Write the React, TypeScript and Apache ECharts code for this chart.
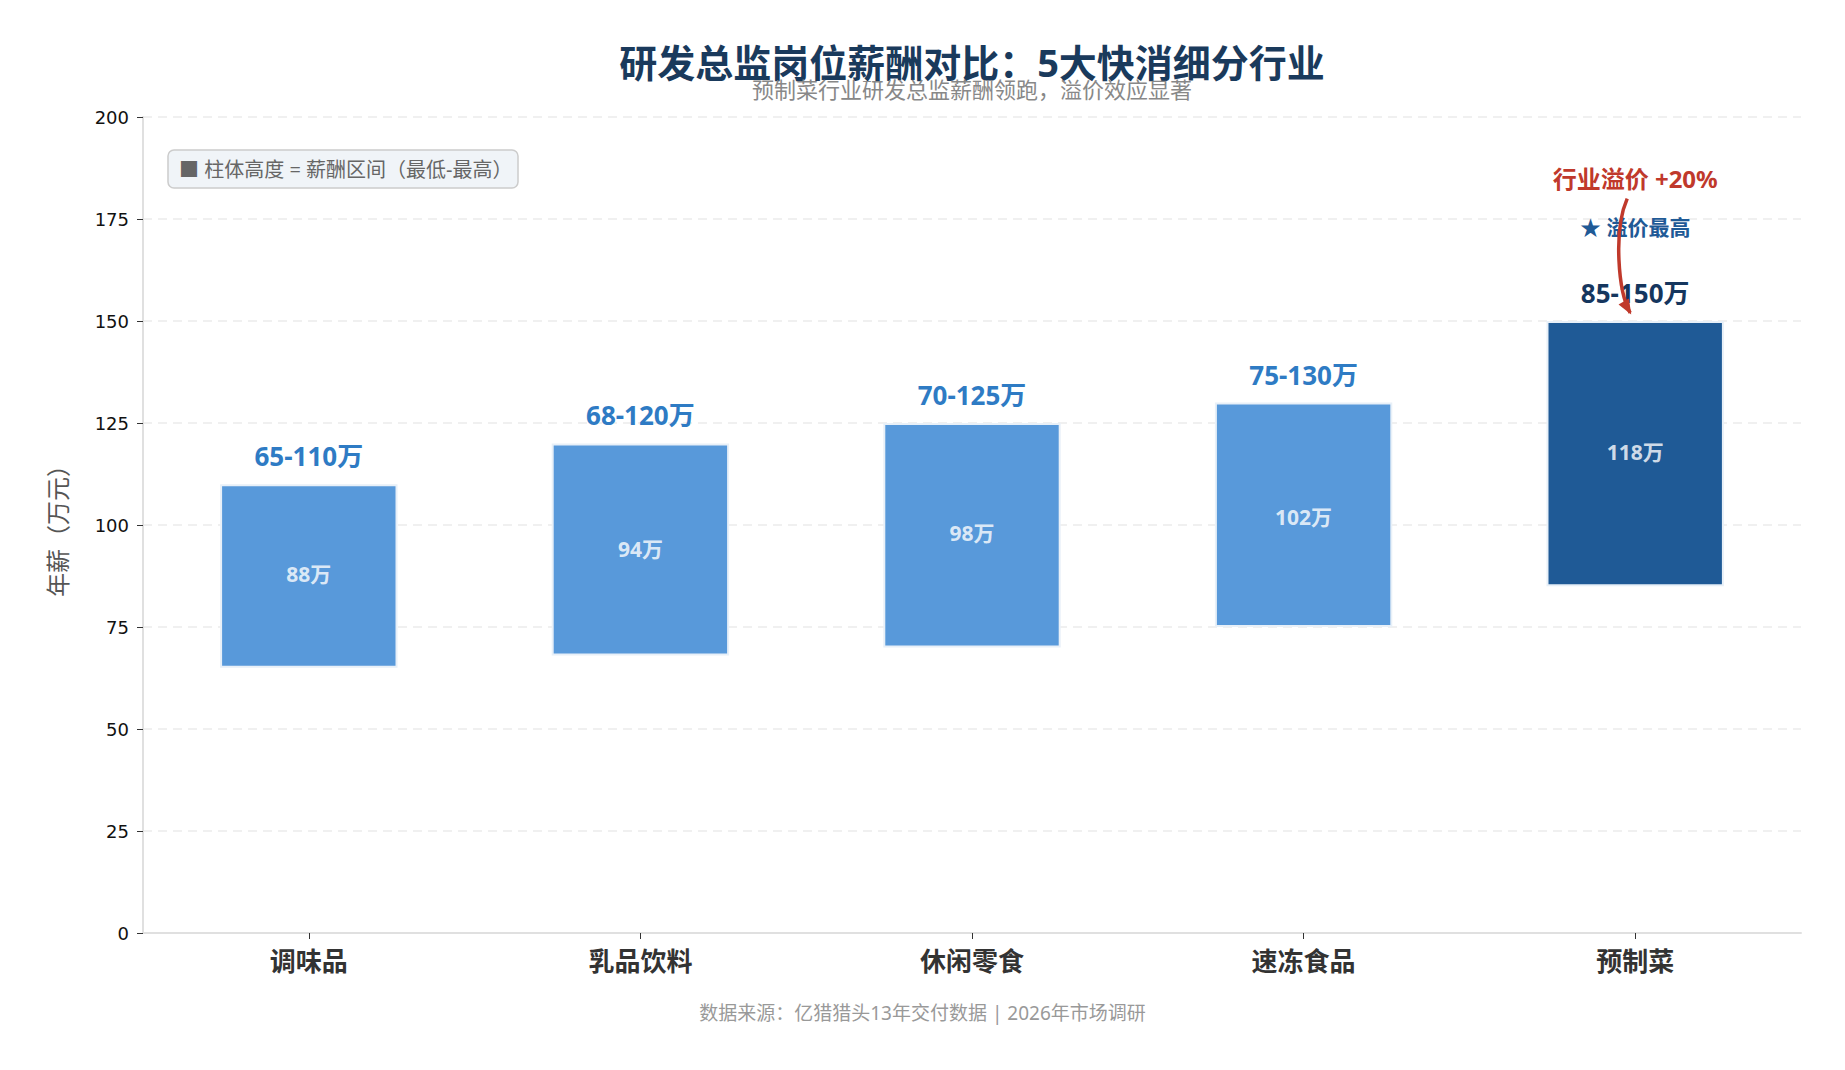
import React, { useEffect, useRef } from "react";
import * as echarts from "echarts";

const categories = ["调味品", "乳品饮料", "休闲零食", "速冻食品", "预制菜"];
const minSalary = [65, 68, 70, 75, 85];
const maxSalary = [110, 120, 125, 130, 150];
const midSalary = [88, 94, 98, 102, 118];
const highlightIndex = 4;

const yMin = 0;
const yMax = 200;
const yInterval = 25;

const titleText = "研发总监岗位薪酬对比：5大快消细分行业";
const subtitleText = "预制菜行业研发总监薪酬领跑，溢价效应显著";
const legendText = "■ 柱体高度 = 薪酬区间（最低-最高）";
const footerText = "数据来源：亿猎猎头13年交付数据 | 2026年市场调研";
const premiumText = "行业溢价 +20%";
const starText = "★ 溢价最高";
const premiumValue = 185;
const starValue = 173;
const arrowFromValue = 180;
const arrowToValue = 152;

const FONT = "'Noto Sans', 'Noto Sans CJK SC', sans-serif";
const NORMAL_COLOR = "#5899da";
const HIGHLIGHT_COLOR = "#1f5a96";
const NORMAL_LABEL = "#2e7bc4";
const HIGHLIGHT_LABEL = "#15365e";
const RED = "#c0392b";

const GRID = { left: 143, right: 44, top: 117, bottom: 137 };

export default function App() {
  const ref = useRef<HTMLDivElement>(null);

  useEffect(() => {
    if (!ref.current) return;
    const chart = echarts.init(ref.current, undefined, { renderer: "svg" });

    const rangeData = categories.map((_, i) => {
      const hi = i === highlightIndex;
      return {
        value: maxSalary[i] - minSalary[i],
        itemStyle: { color: hi ? HIGHLIGHT_COLOR : NORMAL_COLOR },
        label: { color: hi ? HIGHLIGHT_LABEL : NORMAL_LABEL },
      };
    });

    chart.setOption({
      animation: false,
      backgroundColor: "#ffffff",
      grid: { ...GRID, containLabel: false },
      xAxis: {
        type: "category",
        data: categories,
        axisLine: { lineStyle: { color: "#e0e0e0", width: 2 } },
        axisTick: { show: true, alignWithLabel: true, length: 6, lineStyle: { color: "#333" } },
        axisLabel: {
          color: "#333",
          fontSize: 26,
          fontWeight: "bold",
          fontFamily: FONT,
          margin: 15,
        },
      },
      yAxis: {
        type: "value",
        min: yMin,
        max: yMax,
        interval: yInterval,
        name: "年薪（万元）",
        nameLocation: "middle",
        nameRotate: 90,
        nameGap: 74,
        nameTextStyle: { color: "#555", fontSize: 24, fontFamily: FONT },
        axisLine: { show: true, lineStyle: { color: "#e0e0e0", width: 2 } },
        axisTick: { show: true, length: 6, lineStyle: { color: "#333" } },
        axisLabel: { color: "#111", fontSize: 18, fontFamily: "'DejaVu Sans', sans-serif", margin: 14 },
        splitLine: { show: true, lineStyle: { color: "#ececec", type: [9, 6], width: 1.5 } },
      },
      series: [
        {
          name: "base",
          type: "bar",
          stack: "range",
          barWidth: "53.5%",
          silent: true,
          itemStyle: { color: "transparent" },
          data: minSalary,
        },
        {
          name: "range",
          type: "bar",
          stack: "range",
          barWidth: "53.5%",
          itemStyle: { borderColor: "#e8f0f8", borderWidth: 2 },
          label: {
            show: true,
            position: "top",
            distance: 15,
            fontSize: 26,
            fontWeight: "bold",
            fontFamily: FONT,
            formatter: (p: any) => `${minSalary[p.dataIndex]}-${maxSalary[p.dataIndex]}万`,
          },
          data: rangeData,
        },
        {
          name: "mid",
          type: "scatter",
          symbolSize: 1,
          itemStyle: { color: "transparent" },
          silent: true,
          z: 5,
          label: {
            show: true,
            position: "inside",
            color: "#ffffff",
            fontSize: 21,
            fontWeight: "bold",
            fontFamily: FONT,
            formatter: (p: any) => `${p.value}万`,
          },
          data: midSalary,
        },
      ],
    });

    const W = chart.getWidth();
    const gridCenterX = GRID.left + (W - GRID.left - GRID.right) / 2;
    const px = (v: number) =>
      chart.convertToPixel({ xAxisIndex: 0, yAxisIndex: 0 }, [categories[highlightIndex], v]) as number[];
    const cx = px(premiumValue)[0];
    const yPremium = px(premiumValue)[1];
    const yStar = px(starValue)[1];
    const yFrom = px(arrowFromValue)[1];
    const yTo = px(arrowToValue)[1];

    const p0 = [cx - 8, yFrom];
    const c1 = [cx - 22, yFrom + 32];
    const c2 = [cx - 17, yTo - 21];
    const p1 = [cx - 5, yTo];
    let dx = p1[0] - c2[0];
    let dy = p1[1] - c2[1];
    const len = Math.hypot(dx, dy);
    dx /= len;
    dy /= len;
    const tip = [p1[0] + dx * 2, p1[1] + dy * 2];
    const base = [tip[0] - dx * 15, tip[1] - dy * 15];
    const perp = [-dy, dx];
    const head = [
      tip,
      [base[0] + perp[0] * 6, base[1] + perp[1] * 6],
      [base[0] - perp[0] * 6, base[1] - perp[1] * 6],
    ];

    const txt = (text: string, x: number, y: number, size: number, color: string, weight: string, align = "center") => ({
      type: "text",
      x,
      y,
      style: {
        text,
        fill: color,
        fontSize: size,
        fontWeight: weight,
        fontFamily: FONT,
        align,
        textAlign: align,
        verticalAlign: "middle",
        textVerticalAlign: "middle",
      },
      z: 100,
    });

    chart.setOption({
      graphic: [
        txt(titleText, gridCenterX, 62, 38, "#1a3a5c", "bold"),
        txt(subtitleText, gridCenterX, 89, 22, "#888888", "normal"),
        {
          type: "rect",
          shape: { x: 168, y: 150, width: 350, height: 38, r: 6 },
          style: { fill: "#f0f4f8", stroke: "#cccccc", lineWidth: 1.5 },
          z: 90,
        },
        txt(legendText, 179, 169, 20, "#666666", "normal", "left"),
        txt(footerText, W / 2, 1013, 19, "#999999", "normal"),
        txt(premiumText, cx, yPremium, 24, RED, "bold"),
        txt(starText, cx, yStar, 21, HIGHLIGHT_COLOR, "bold"),
        {
          type: "bezierCurve",
          shape: {
            x1: p0[0], y1: p0[1],
            cpx1: c1[0], cpy1: c1[1],
            cpx2: c2[0], cpy2: c2[1],
            x2: p1[0], y2: p1[1],
          },
          style: { stroke: RED, lineWidth: 3.5, fill: "none" },
          z: 110,
        },
        {
          type: "polygon",
          shape: { points: head },
          style: { fill: RED },
          z: 110,
        },
      ],
    });

    return () => chart.dispose();
  }, []);

  return (
    <div
      ref={ref}
      style={{ position: "absolute", left: 0, top: 0, width: 1845, height: 1070, background: "#fff" }}
    />
  );
}
